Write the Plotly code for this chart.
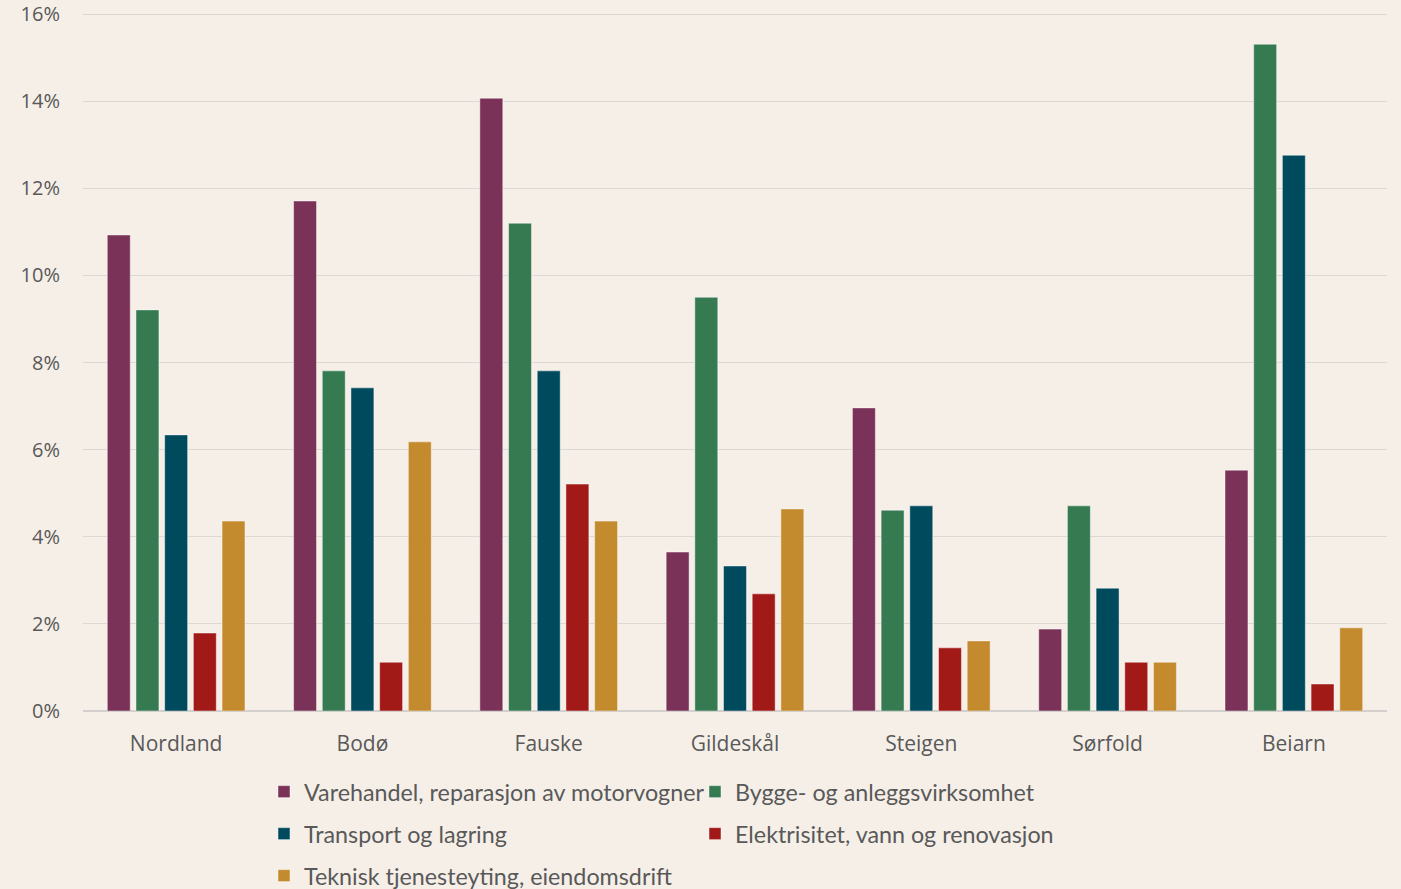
import plotly.graph_objects as go

categories = ["Nordland", "Bodø", "Fauske", "Gildeskål", "Steigen", "Sørfold", "Beiarn"]

series_names = [
    "Varehandel, reparasjon av motorvogner",
    "Bygge- og anleggsvirksomhet",
    "Transport og lagring",
    "Elektrisitet, vann og renovasjon",
    "Teknisk tjenesteyting, eiendomsdrift",
]

varehandel = [10.93, 11.71, 14.07, 3.65, 6.96, 1.88, 5.53]
bygge = [9.21, 7.81, 11.20, 9.50, 4.61, 4.71, 15.31]
transport = [6.34, 7.42, 7.81, 3.33, 4.71, 2.82, 12.76]
elektrisitet = [1.79, 1.12, 5.21, 2.69, 1.45, 1.12, 0.62]
teknisk = [4.36, 6.18, 4.36, 4.64, 1.61, 1.12, 1.91]

series_values = [varehandel, bygge, transport, elektrisitet, teknisk]
colors = ["#7B3258", "#367A52", "#004A5E", "#A21A18", "#C48A2E"]

y_ticks = [0, 2, 4, 6, 8, 10, 12, 14, 16]

W, H = 1401, 889
ML, MR, MT, MB = 83, 14, 12, 178
plot_w = W - ML - MR
plot_h = H - MT - MB

# legend slots: (text-left pixel x, row center pixel y)
legend_slots = [(304, 792), (735, 792), (304, 834), (735, 834), (304, 876)]
legend_ids = ["legend", "legend2", "legend3", "legend4", "legend5"]

BG = "#F5EFE8"
TXT = "#595959"
LEG_FONT = dict(family="Lato, Open Sans, sans-serif", size=23.3, color=TXT)

fig = go.Figure()
for name, vals, col, lid in zip(series_names, series_values, colors, legend_ids):
    fig.add_trace(go.Bar(
        x=categories, y=vals, name=name,
        marker=dict(color=col, line=dict(color="rgba(255,255,255,0.45)", width=1)),
        legend=lid,
        hoverinfo="x+y+name",
    ))

layout_legends = {}
for (tx, ty), lid in zip(legend_slots, legend_ids):
    layout_legends[lid] = dict(
        orientation="h",
        x=(tx - 40 - ML) / plot_w,
        xanchor="left",
        y=(H - MB - ty) / plot_h,
        yanchor="middle",
        bgcolor="rgba(0,0,0,0)",
        font=LEG_FONT,
        itemclick=False,
        itemdoubleclick=False,
    )

fig.update_layout(
    width=W, height=H,
    margin=dict(l=ML, r=MR, t=MT, b=MB, autoexpand=False),
    paper_bgcolor=BG,
    plot_bgcolor=BG,
    barmode="group",
    bargap=0.23,
    bargroupgap=0.2,
    showlegend=True,
    **layout_legends,
)

fig.update_xaxes(
    showgrid=False,
    showline=False,
    ticks="",
    tickfont=dict(family="Open Sans, sans-serif", size=21, color=TXT),
    ticklabelstandoff=18,
)
fig.update_yaxes(
    range=[0, 16.05],
    tickvals=y_ticks,
    ticktext=[f"{v}%" for v in y_ticks],
    showgrid=True,
    gridcolor="#DCD8D6",
    gridwidth=1.2,
    zeroline=True,
    zerolinecolor="#D3CFCD",
    zerolinewidth=1.5,
    showline=False,
    ticks="",
    tickfont=dict(family="Open Sans, sans-serif", size=20, color=TXT),
    ticklabelstandoff=22,
    ticklabeloverflow="allow",
)

fig.write_html(
    "out.html",
    config={"displayModeBar": False},
    post_script="document.body.style.margin='0';document.body.style.background='#F5EFE8';",
)
